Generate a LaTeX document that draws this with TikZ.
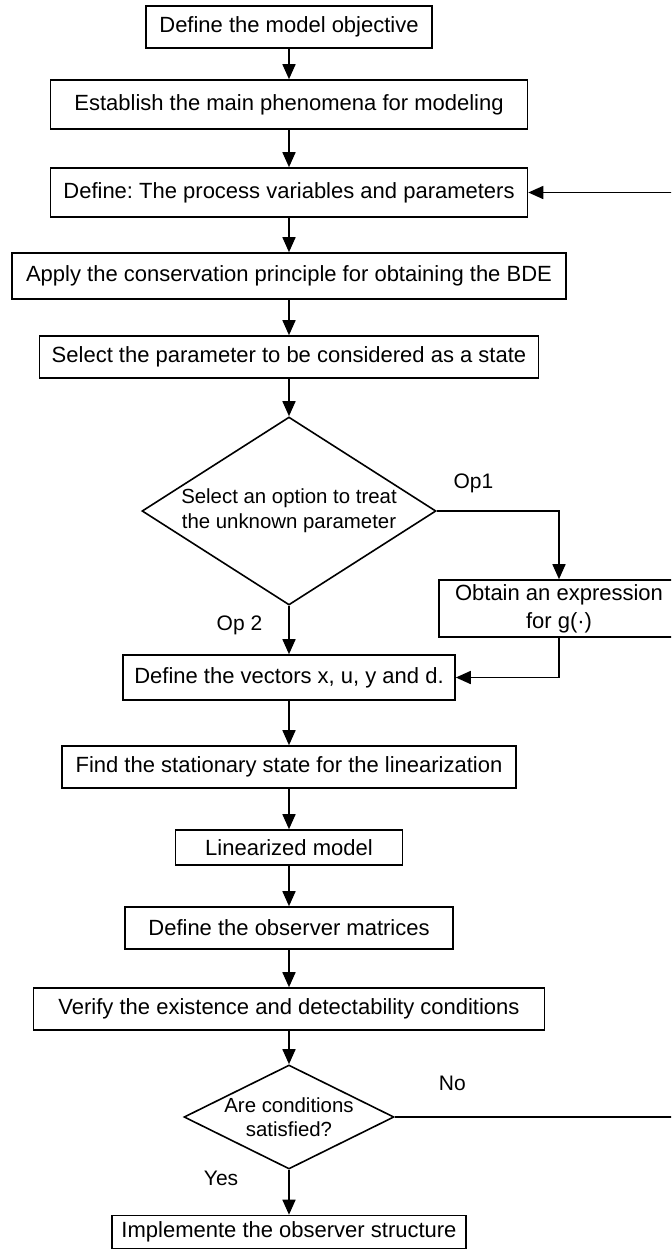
\documentclass[tikz,border=0pt]{standalone}
\usepackage{fontspec}
\setmainfont{Liberation Sans}
\usetikzlibrary{arrows.meta,positioning,shapes.geometric}
\frenchspacing

\tikzset{
  box/.style={draw, rectangle, inner sep=0pt, align=center,
              font=\fontsize{11}{14}\selectfont},
  decision/.style={draw, diamond, inner sep=-1.5pt, align=center,
                   font=\fontsize{10.2}{12.3}\selectfont},
  lbl/.style={inner sep=0pt, font=\fontsize{10.5}{12}\selectfont},
}

\begin{document}
\begin{tikzpicture}[>={Triangle[length=7.5pt,width=6.5pt]}, line width=0.8pt,
                    node distance=40pt]

        \useasboundingbox (0,0) rectangle (335.5pt,-624.5pt);
        \clip (0,0) rectangle (335.5pt,-624.5pt);

        \node[box, minimum width=143pt, minimum height=21pt] (b1) at (144.5pt,-13.5pt) {Define the model objective};
        \node[box, minimum width=238.5pt, minimum height=24.5pt] (b2) [below of=b1, node distance=38.75pt] {Establish the main phenomena for modeling};
        \node[box, minimum width=238.5pt, minimum height=24.5pt] (b3) [below of=b2, node distance=44pt] {Define: The process variables and parameters};
        \node[box, minimum width=277pt, minimum height=23pt] (b4) [below of=b3, node distance=41.75pt] {Apply the conservation principle for obtaining the BDE};
        \node[box, minimum width=249.5pt, minimum height=21pt] (b5) [below of=b4, node distance=40.5pt] {Select the parameter to be considered as a state};

        \node[decision, aspect=1.56, minimum width=147pt, minimum height=94pt] (d1) [below of=b5, node distance=77pt] {Select an option to treat\\the unknown parameter};
        \node[box, minimum width=120pt, minimum height=28.5pt] (b6) [right of=d1, node distance=135pt, yshift=-48.75pt] {Obtain an expression\\for g(·)};

        \node[box, minimum width=166pt, minimum height=22.5pt] (b7) [below of=d1, node distance=83.25pt] {Define the vectors x, u, y and d.};
        \node[box, minimum width=227pt, minimum height=21pt] (b8) [below of=b7, node distance=44.75pt] {Find the stationary state for the linearization};
        \node[box, minimum width=113.5pt, minimum height=17.5pt] (b9) [below of=b8, node distance=40.25pt] {Linearized model};
        \node[box, minimum width=164.25pt, minimum height=21pt] (b10) [below of=b9, node distance=40.25pt] {Define the observer matrices};
        \node[box, minimum width=255.5pt, minimum height=21pt] (b11) [below of=b10, node distance=40.5pt] {Verify the existence and detectability conditions};

        \node[decision, aspect=2, minimum width=105pt, minimum height=52pt] (d2) [below of=b11, node distance=54pt] {Are conditions\\satisfied?};
        \node[box, minimum width=177pt, minimum height=16.5pt] (b12) [below of=d2, node distance=57.5pt] {Implemente the observer structure};

        \path (b1) edge [->] (b2)
              (b2) edge [->] (b3)
              (b3) edge [->] (b4)
              (b4) edge [->] (b5)
              (b5) edge [->] (d1)
              (d1) edge [->] node[lbl, left=13pt, pos=0.4] {Op 2} (b7)
              (b7) edge [->] (b8)
              (b8) edge [->] (b9)
              (b9) edge [->] (b10)
              (b10) edge [->] (b11)
              (b11) edge [->] (d2)
              (d2) edge [->] node[lbl, left=25pt, pos=0.19] {Yes} (b12);

        \draw[->] (d1.east) -| node[lbl, pos=0.15, above=8.5pt] {Op1} (b6.north);
        \draw[->] (b6.south) |- (b7.east);
        \draw[->] (d2.east) -- node[lbl, pos=0.18, above=13pt] {No} ++(160pt,0) |- (b3.east);
      \end{tikzpicture}
\end{document}
